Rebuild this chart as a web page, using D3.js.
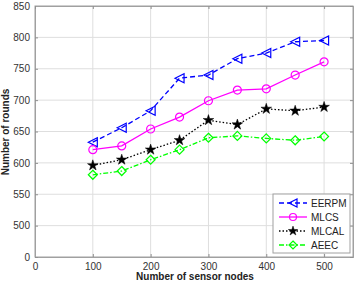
<!DOCTYPE html>
<html>
<head>
<meta charset="utf-8">
<script src="https://cdn.jsdelivr.net/npm/d3@7"></script>
<style>
  body { margin: 0; background: #fff; }
  svg { display: block; font-family: "Liberation Sans", Arial, sans-serif; }
</style>
</head>
<body>
<svg width="357" height="284"></svg>
<script>
const nodes = [100, 150, 200, 250, 300, 350, 400, 450, 500];
const eerpm = [633, 656, 683, 735, 740, 766, 775, 793, 795];
const mlcs = [621, 627, 654, 673, 699, 716, 718, 740, 761];
const mlcal = [596, 605, 621, 636, 668, 661, 686, 683, 689];
const aeec = [581, 587, 605, 621, 640, 643, 639, 636, 642];

const xTicks = [0, 100, 200, 300, 400, 500];
// the bottom tick of the broken y axis is printed as "0"
const yTicks = [450, 500, 550, 600, 650, 700, 750, 800, 850];

const series = [
  { name: "EERPM", values: eerpm, color: "#0000ff", dash: "5,3", marker: "tri" },
  { name: "MLCS", values: mlcs, color: "#ff00ff", dash: null, marker: "circle" },
  { name: "MLCAL", values: mlcal, color: "#000000", dash: "1.5,2", marker: "star" },
  { name: "AEEC", values: aeec, color: "#00ff00", dash: "5,2,1.5,2", marker: "diamond" }
];

const svg = d3.select("svg");
const m = { left: 35, top: 6, right: 353, bottom: 257 };

const x = d3.scaleLinear().domain([0, 550]).range([m.left, m.right]);
const y = d3.scaleLinear().domain([450, 850]).range([m.bottom, m.top]);

// grid
svg.append("g")
    .selectAll("line")
    .data(xTicks.slice(1))
    .join("line")
    .attr("x1", d => x(d)).attr("x2", d => x(d))
    .attr("y1", m.top).attr("y2", m.bottom)
    .attr("stroke", "#dedede")
    .attr("stroke-width", 1)

svg.append("g")
    .selectAll("line")
    .data(yTicks.slice(1, -1))
    .join("line")
    .attr("x1", m.left).attr("x2", m.right)
    .attr("y1", d => y(d)).attr("y2", d => y(d))
    .attr("stroke", "#dedede")
    .attr("stroke-width", 1)

// frame
svg.append("rect")
    .attr("x", m.left).attr("y", m.top)
    .attr("width", m.right - m.left).attr("height", m.bottom - m.top)
    .attr("fill", "none")
    .attr("stroke", "#a0a0a0")

// axes (ticks inside, MATLAB style)
const xAxis = d3.axisBottom(x).tickValues(xTicks).tickSize(-3).tickPadding(6);
const yAxis = d3.axisLeft(y).tickValues(yTicks).tickSize(-3).tickPadding(5)
    .tickFormat(d => d === 450 ? "0" : d);

const gx = svg.append("g").attr("transform", `translate(0,${m.bottom})`).call(xAxis);
const gy = svg.append("g").attr("transform", `translate(${m.left},0)`).call(yAxis);
const gx2 = svg.append("g").attr("transform", `translate(0,${m.top})`)
    .call(d3.axisTop(x).tickValues(xTicks).tickSize(-3).tickFormat(""));
const gy2 = svg.append("g").attr("transform", `translate(${m.right},0)`)
    .call(d3.axisRight(y).tickValues(yTicks).tickSize(-3).tickFormat(""));

[gx, gy, gx2, gy2].forEach(g => {
  g.select(".domain").attr("stroke", "#a0a0a0");
  g.selectAll(".tick line").attr("stroke", "#909090");
  g.selectAll(".tick text")
      .attr("fill", "#333")
      .style("font-size", "10px")
      .style("font-family", "'Liberation Sans', Arial, sans-serif");
});

// lines
const line = d3.line()
    .x((d, i) => x(nodes[i]))
    .y(d => y(d));

const drawMarker = (g, type, color, size) => {
  if (type === "circle") {
    g.append("circle").attr("r", size).attr("fill", "none")
        .attr("stroke", color).attr("stroke-width", 1.2);
  } else if (type === "tri") {
    const s = size + 0.5;
    g.append("path").attr("d", `M${-s},0L${s},${-s}L${s},${s}Z`)
        .attr("fill", "none").attr("stroke", color).attr("stroke-width", 1.2);
  } else if (type === "diamond") {
    const s = size + 0.5;
    g.append("path").attr("d", `M0,${-s}L${s},0L0,${s}L${-s},0Z`)
        .attr("fill", "none").attr("stroke", color).attr("stroke-width", 1.2);
  } else if (type === "star") {
    g.append("path").attr("d", d3.symbol(d3.symbolStar, size * size * 2.2)())
        .attr("fill", color).attr("stroke", color).attr("stroke-width", 0.5);
  }
};

series.forEach(s => {
  svg.append("path")
      .datum(s.values)
      .attr("d", line)
      .attr("fill", "none")
      .attr("stroke", s.color)
      .attr("stroke-width", 1.3)
      .attr("stroke-dasharray", s.dash);

  s.values.forEach((v, i) => {
    const g = svg.append("g").attr("transform", `translate(${x(nodes[i])},${y(v)})`);
    drawMarker(g, s.marker, s.color, 4);
  });
});

// legend
const lg = svg.append("g").attr("transform", "translate(273,194)");
lg.append("rect")
    .attr("width", 77).attr("height", 59)
    .attr("fill", "#fff")
    .attr("stroke", "#a0a0a0")

series.forEach((s, i) => {
  const yy = 9 + i * 14;
  lg.append("line")
      .attr("x1", 6).attr("x2", 34)
      .attr("y1", yy).attr("y2", yy)
      .attr("stroke", s.color)
      .attr("stroke-width", 1.3)
      .attr("stroke-dasharray", s.dash);
  drawMarker(lg.append("g").attr("transform", `translate(20,${yy})`), s.marker, s.color, 3.5);
  lg.append("text")
      .attr("x", 38).attr("y", yy + 3.5)
      .attr("fill", "#222")
      .style("font-size", "10px")
      .text(s.name);
});

// axis titles
svg.append("text")
    .attr("x", 195).attr("y", 280)
    .attr("text-anchor", "middle")
    .attr("font-weight", "bold")
    .attr("fill", "#222")
    .style("font-size", "10px")
    .text("Number of sensor nodes");

svg.append("text")
    .attr("transform", "translate(9,132) rotate(-90)")
    .attr("text-anchor", "middle")
    .attr("font-weight", "bold")
    .attr("fill", "#222")
    .style("font-size", "10px")
    .text("Number of rounds");
</script>
</body>
</html>
